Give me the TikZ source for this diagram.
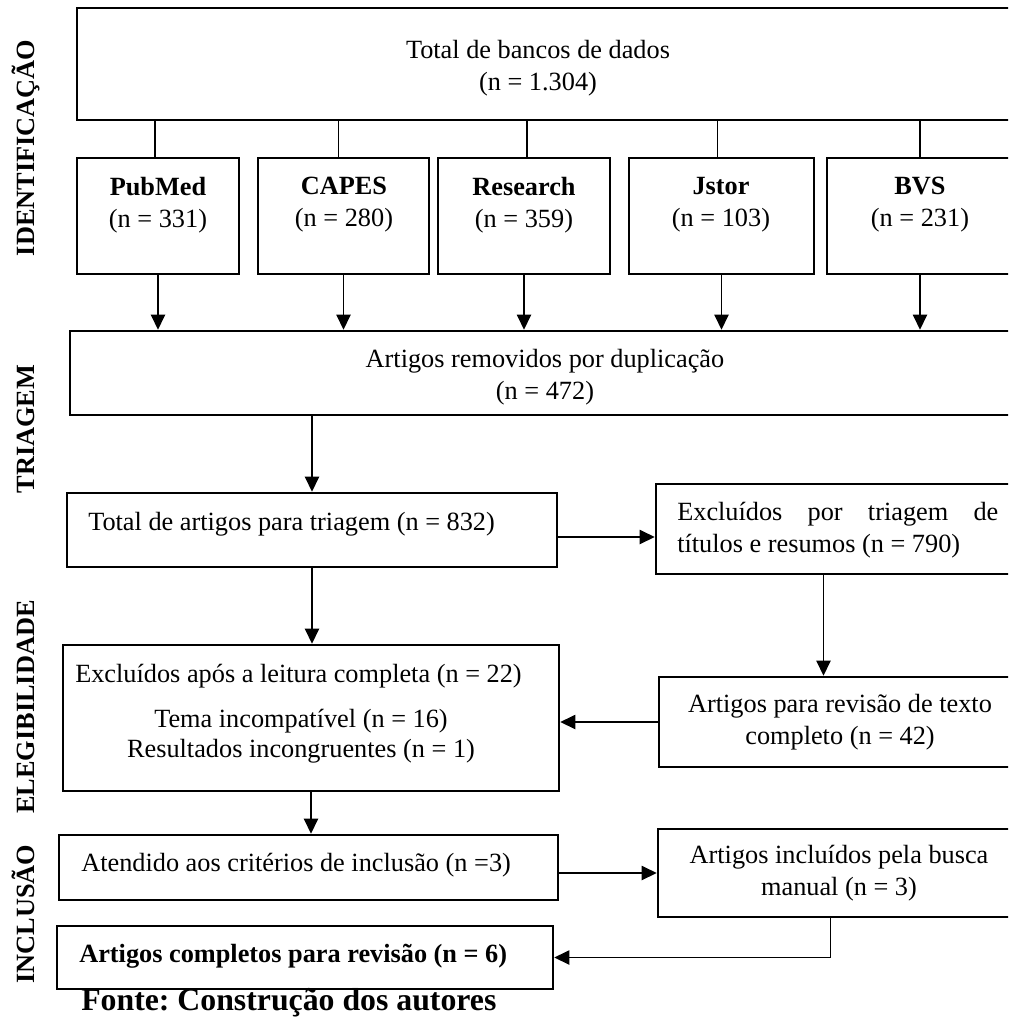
\documentclass[tikz,border=0pt]{standalone}
\usepackage{fontspec}
\setmainfont{Liberation Serif}
\usepackage{tikz}
\usetikzlibrary{
  positioning,
  arrows.meta,
  fit
}
\frenchspacing
\newcommand{\txtsize}{\fontsize{18.7pt}{22.7pt}\selectfont}
\newcommand{\capsize}{\fontsize{22.6pt}{26pt}\selectfont}

\begin{document}
\begin{tikzpicture}[x=0.025cm, y=-0.025cm,
    box/.style = {rectangle, draw, line width=1.8pt, inner sep=0pt},
    txt/.style = {inner sep=0pt, align=center, font=\txtsize},
    side/.style = {inner sep=0pt, rotate=90, anchor=base, font=\txtsize\bfseries},
    conn/.style = {line width=0.85pt},
    arr/.style = {line width=0.85pt, -{Triangle[length=3.8mm, width=3.6mm]}}]
          \useasboundingbox (0,0) rectangle (1008,1020);
          \clip (0,0) rectangle (1008,1020);

          % side labels
          \node[side] (lblident) at (34,148) {IDENTIFICAÇÃO};
          \node[side] (lbltriag) at (34,429) {TRIAGEM};
          \node[side] (lblelegi) at (34,707) {ELEGIBILIDADE};
          \node[side] (lblinclu) at (34,914) {INCLUSÃO};

          % boxes
          \node[box, fit={(77,8) (1015,120)}] (total) {};
          \node[box, fit={(77,158) (239,274)}] (pubmed) {};
          \node[box, fit={(258,158) (429,274)}] (capes) {};
          \node[box, fit={(438,158) (610,274)}] (research) {};
          \node[box, fit={(629,158) (814,274)}] (jstor) {};
          \node[box, fit={(827,158) (1013,274)}] (bvs) {};
          \node[box, fit={(70,331) (1015,415)}] (dup) {};
          \node[box, fit={(67,493) (557,567)}] (triag) {};
          \node[box, fit={(656,484) (1015,574)}] (exclres) {};
          \node[box, fit={(63,645) (559,791)}] (excllei) {};
          \node[box, fit={(659,677) (1015,767)}] (revtxt) {};
          \node[box, fit={(59,835) (558,900)}] (criter) {};
          \node[box, fit={(658,829) (1015,917)}] (manual) {};
          \node[box, fit={(57,926) (553,989)}] (final) {};

          % texts
          \node[txt] (totallbl) at (538,68.5) {Total de bancos de dados\\(n = 1.304)};
          \node[txt] (pubmedlbl) at (158,205) {\textbf{PubMed}\\(n = 331)};
          \node[txt] (capeslbl) at (344,205) {\textbf{CAPES}\\(n = 280)};
          \node[txt] (researchlbl) at (524,205) {\textbf{Research}\\(n = 359)};
          \node[txt] (jstorlbl) at (721,205) {\textbf{Jstor}\\(n = 103)};
          \node[txt] (bvslbl) at (920,205) {\textbf{BVS}\\(n = 231)};
          \node[txt] (duplbl) at (545,377) {Artigos removidos por duplicação\\(n = 472)};
          \node[txt, anchor=base west] (triaglbl) at (88,530) {Total de artigos para triagem (n = 832)};
          \node[txt, align=left, anchor=west] (exclreslbl) at (677,530) {\makebox[8.025cm][s]{Excluídos por triagem de}\\títulos e resumos (n = 790)};
          \node[txt, anchor=base west] (exclleilbl) at (75,682) {Excluídos após a leitura completa (n = 22)};
          \node[txt, font=\fontsize{18.7pt}{21pt}\selectfont] (motivos) at (301,736) {Tema incompatível (n = 16)\\Resultados incongruentes (n = 1)};
          \node[txt] (revtxtlbl) at (840,722.5) {Artigos para revisão de texto\\completo (n = 42)};
          \node[txt, anchor=base west] (criterlbl) at (81,871) {Atendido aos critérios de inclusão (n =3)};
          \node[txt] (manuallbl) at (839,873.5) {Artigos incluídos pela busca\\manual (n = 3)};
          \node[txt, anchor=base west] (finallbl) at (79,962) {\textbf{Artigos completos para revisão (n = 6)}};
          \node[txt, anchor=base west, font=\capsize\bfseries] (fonte) at (81,1010) {Fonte: Construção dos autores};

          % connections
          \draw[conn] ([xshift=-0.075cm]pubmed.north |- total.south) -- ([xshift=-0.075cm]pubmed.north);
          \draw[conn] ([xshift=-0.125cm]capes.north |- total.south) -- ([xshift=-0.125cm]capes.north);
          \draw[conn] ([xshift=0.075cm]research.north |- total.south) -- ([xshift=0.075cm]research.north);
          \draw[conn] ([xshift=-0.1cm]jstor.north |- total.south) -- ([xshift=-0.1cm]jstor.north);
          \draw[conn] (bvs.north |- total.south) -- (bvs.north);
          \draw[arr] (pubmed.south) -- (pubmed.south |- dup.north);
          \draw[arr] (capes.south) -- (capes.south |- dup.north);
          \draw[arr] (research.south) -- (research.south |- dup.north);
          \draw[arr] (jstor.south) -- (jstor.south |- dup.north);
          \draw[arr] (bvs.south) -- (bvs.south |- dup.north);
          \draw[arr] (triag.north |- dup.south) -- (triag.north);
          \draw[arr] ([yshift=-0.175cm]triag.east) -- ([yshift=-0.175cm]triag.east -| exclres.west);
          \draw[arr] (triag.south) -- (triag.south |- excllei.north);
          \draw[arr] ([xshift=-0.3cm]exclres.south) -- ([xshift=-0.3cm]exclres.south |- revtxt.north);
          \draw[arr] (revtxt.west) -- (revtxt.west -| excllei.east);
          \draw[arr] (excllei.south) -- (excllei.south |- criter.north);
          \draw[arr] (manual.west -| criter.east) -- (manual.west);
          \draw[arr] ([xshift=-0.15cm]manual.south) |- (final.east);
\end{tikzpicture}
\end{document}
